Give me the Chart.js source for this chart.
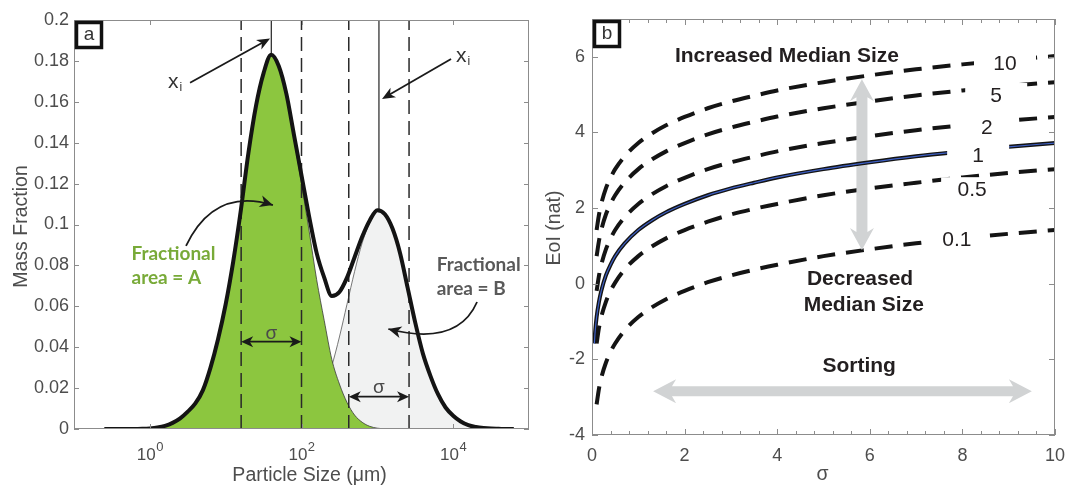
<!DOCTYPE html>
<html><head><meta charset="utf-8">
<script src="https://cdn.jsdelivr.net/npm/chart.js@4"></script>
<style>
html,body{margin:0;padding:0;background:#fff;width:1067px;height:487px;overflow:hidden}
#wa{position:absolute;left:0;top:0;width:540px;height:487px}
#wb{position:absolute;left:540px;top:0;width:527px;height:487px}
</style></head><body>
<div id="wa"><canvas id="ca"></canvas></div>
<div id="wb"><canvas id="cb"></canvas></div>
<script>
// ---------------- Panel a data ----------------
const sizeUm = [0.251,0.316,0.398,0.501,0.631,0.794,1,1.259,1.585,1.995,2.512,3.162,3.981,5.012,6.31,7.943,10,12.59,15.85,19.95,25.12,31.62,39.81,50.12,63.1,79.43,100,125.9,158.5,199.5,251.2,316.2,398.1,501.2,631,794.3,1000,1259,1585,1995,2512,3162,3981,5012,6310,7943,10000,12589,15849,19953,25119,31623,39811,50119,63096];
const massTotal = [0,0,0,0,0,0.0001,0.0003,0.0007,0.0015,0.003,0.0052,0.0085,0.0125,0.019,0.030,0.044,0.061,0.082,0.107,0.135,0.158,0.174,0.183,0.1775,0.164,0.144,0.124,0.104,0.086,0.074,0.065,0.067,0.074,0.084,0.094,0.102,0.107,0.105,0.098,0.086,0.069,0.052,0.037,0.026,0.017,0.0105,0.0065,0.0037,0.0019,0.001,0.0005,0.0002,0.0001,0,0];
const massA = [0,0,0,0,0,0.0001,0.0003,0.0007,0.0015,0.003,0.0052,0.0085,0.0125,0.019,0.030,0.044,0.061,0.082,0.107,0.135,0.158,0.174,0.183,0.177,0.163,0.142,0.120,0.097,0.073,0.053,0.034,0.022,0.013,0.0068,0.0033,0.0013,0.0004,0.0001,0,0,0,0,0,0,0,0,0,0,0,0,0,0,0,0,0];
const massB = [0,0,0,0,0,0,0,0,0,0,0,0,0,0,0,0,0,0,0,0,0,0,0.0001,0.0003,0.0008,0.0018,0.0038,0.0072,0.013,0.021,0.031,0.045,0.061,0.077,0.091,0.101,0.107,0.105,0.098,0.086,0.069,0.052,0.037,0.026,0.017,0.0105,0.0065,0.0037,0.0019,0.001,0.0005,0.0002,0.0001,0,0];
const xiSizes = [40, 1050];
const xiPeaks = [0.183, 0.107];
const sigmaLines = [16, 100, 420, 2620];
const yTicksA = [0,0.02,0.04,0.06,0.08,0.1,0.12,0.14,0.16,0.18,0.2];
const xTicksA = [1,100,10000];
const xTickExpA = ['0','2','4'];

// ---------------- Panel b data ----------------
const sigmaDash = [0.1,0.15,0.2,0.3,0.4,0.5,0.7,1,1.3,1.6,2,2.5,3,3.5,4,5,6,7,8,9,10];
const sigmaSolid = [0.05,0.07,0.1,0.15,0.2,0.3,0.4,0.5,0.7,1,1.3,1.6,2,2.5,3,3.5,4,5,6,7,8,9,10];
const eoi10 = [1.42,1.82,2.11,2.52,2.80,3.03,3.36,3.72,3.98,4.19,4.41,4.64,4.82,4.97,5.11,5.33,5.51,5.67,5.80,5.92,6.02];
const eoi5  = [0.73,1.13,1.42,1.83,2.11,2.34,2.67,3.03,3.29,3.50,3.72,3.95,4.13,4.28,4.42,4.64,4.82,4.98,5.11,5.23,5.33];
const eoi2  = [-0.19,0.21,0.50,0.91,1.19,1.42,1.75,2.11,2.37,2.58,2.80,3.03,3.21,3.36,3.50,3.72,3.90,4.06,4.19,4.31,4.41];
const eoi1  = [-1.58,-1.24,-0.88,-0.48,-0.19,0.22,0.50,0.73,1.06,1.42,1.68,1.89,2.11,2.34,2.52,2.67,2.81,3.03,3.21,3.37,3.50,3.62,3.72];
const eoi05 = [-1.58,-1.17,-0.88,-0.48,-0.19,0.03,0.37,0.73,0.99,1.20,1.42,1.64,1.83,1.98,2.11,2.34,2.52,2.67,2.81,2.93,3.03];
const eoi01 = [-3.19,-2.78,-2.49,-2.09,-1.80,-1.58,-1.24,-0.88,-0.62,-0.41,-0.19,0.04,0.22,0.37,0.50,0.73,0.91,1.07,1.20,1.32,1.42];
const medianLabels = ['10','5','2','1','0.5','0.1'];
const xTicksB = [0,2,4,6,8,10];
const xMinorB = [0.4,0.8,1.2,1.6,2.4,2.8,3.2,3.6,4.4,4.8,5.2,5.6,6.4,6.8,7.2,7.6,8.4,8.8,9.2,9.6];
const yTicksB = [-4,-2,0,2,4,6];

// ---------------- helpers ----------------
Chart.defaults.font.family = '"Liberation Sans", Arial, sans-serif';
Chart.defaults.color = '#4d4d4d';
const FONT = '"Liberation Sans", Arial, sans-serif';
const AXC = '#8c8c8c';
const pts = (xs, ys) => xs.map((x,i)=>({x:x, y:ys[i]}));
const noPad = s => { s.paddingLeft = 0; s.paddingRight = 0; s.paddingTop = 0; s.paddingBottom = 0; };

function stealth(ctx,x,y,ang,L,W){ctx.save();ctx.translate(x,y);ctx.rotate(ang);ctx.beginPath();ctx.moveTo(0,0);ctx.lineTo(-L,-W);ctx.lineTo(-L*0.72,0);ctx.lineTo(-L,W);ctx.closePath();ctx.fill();ctx.restore();}
function arrowLine(ctx,x1,y1,x2,y2,L,W){const a=Math.atan2(y2-y1,x2-x1);ctx.beginPath();ctx.moveTo(x1,y1);ctx.lineTo(x2-Math.cos(a)*L*0.6,y2-Math.sin(a)*L*0.6);ctx.stroke();stealth(ctx,x2,y2,a,L,W);}
function dblArrow(ctx,x1,y,x2,L,W){ctx.beginPath();ctx.moveTo(x1+L*0.6,y);ctx.lineTo(x2-L*0.6,y);ctx.stroke();stealth(ctx,x1,y,Math.PI,L,W);stealth(ctx,x2,y,0,L,W);}
function curveArrow(ctx,p0,c,p2,L,W){ctx.beginPath();ctx.moveTo(p0[0],p0[1]);ctx.quadraticCurveTo(c[0],c[1],p2[0],p2[1]);ctx.stroke();stealth(ctx,p2[0],p2[1],Math.atan2(p2[1]-c[1],p2[0]-c[0]),L,W);}
function fatArrow(ctx,x1,y1,x2,y2,shaft,headW,headL){
  const len=Math.hypot(x2-x1,y2-y1), s=shaft/2, h=headW/2;
  ctx.save();ctx.translate(x1,y1);ctx.rotate(Math.atan2(y2-y1,x2-x1));
  ctx.beginPath();ctx.moveTo(0,0);ctx.lineTo(headL,-h);ctx.lineTo(headL*0.82,-s);ctx.lineTo(len-headL*0.82,-s);ctx.lineTo(len-headL,-h);
  ctx.lineTo(len,0);ctx.lineTo(len-headL,h);ctx.lineTo(len-headL*0.82,s);ctx.lineTo(headL*0.82,s);ctx.lineTo(headL,h);ctx.closePath();ctx.fill();ctx.restore();
}
function panelBox(ctx,ca,letter){
  ctx.save();ctx.fillStyle='#fff';ctx.fillRect(ca.left+1,ca.top+1,28,28);
  ctx.strokeStyle='#111';ctx.lineWidth=3.5;ctx.strokeRect(ca.left+2.5,ca.top+2.5,25,25);
  ctx.fillStyle='#333';ctx.font='19px '+FONT;ctx.textAlign='center';ctx.textBaseline='middle';ctx.fillText(letter,ca.left+15,ca.top+15);ctx.restore();
}

// ---------------- Panel a ----------------
const annA = {
  id:'annA',
  afterDatasetsDraw(chart){
    const {ctx, chartArea:ca, scales:{x,y}} = chart;
    const X=v=>x.getPixelForValue(v), Y=v=>y.getPixelForValue(v);
    ctx.save();
    ctx.strokeStyle=AXC; ctx.lineWidth=1;
    ctx.strokeRect(ca.left+0.5,ca.top+0.5,ca.right-ca.left-1,ca.bottom-ca.top-1);
    ctx.beginPath();
    yTicksA.forEach(v=>{const p=Math.round(Y(v))+0.5;ctx.moveTo(ca.left,p);ctx.lineTo(ca.left+5,p);ctx.moveTo(ca.right,p);ctx.lineTo(ca.right-5,p);});
    xTicksA.forEach(v=>{const p=Math.round(X(v))+0.5;ctx.moveTo(p,ca.bottom);ctx.lineTo(p,ca.bottom-5);ctx.moveTo(p,ca.top);ctx.lineTo(p,ca.top+5);});
    ctx.stroke();
    ctx.fillStyle='#4d4d4d';ctx.textAlign='left';ctx.textBaseline='alphabetic';
    xTicksA.forEach((v,i)=>{
      ctx.font='17px '+FONT;const w1=ctx.measureText('10').width;
      ctx.font='13px '+FONT;const w2=ctx.measureText(xTickExpA[i]).width;
      const sx=X(v)-(w1+w2)/2;
      ctx.font='17px '+FONT;ctx.fillText('10',sx,ca.bottom+31);
      ctx.font='13px '+FONT;ctx.fillText(xTickExpA[i],sx+w1+0.5,ca.bottom+22);
    });
    ctx.font='19.5px '+FONT;ctx.textAlign='center';
    ctx.fillText('Particle Size (\u03bcm)',(ca.left+ca.right)/2+8,ca.bottom+52);
    ctx.save();ctx.translate(ca.left-47,(ca.top+ca.bottom)/2+2);ctx.rotate(-Math.PI/2);ctx.fillText('Mass Fraction',0,0);ctx.restore();
    ctx.strokeStyle='#1a1a1a';ctx.fillStyle='#1a1a1a';ctx.lineWidth=1.8;
    arrowLine(ctx,X(3.39),Y(0.1693),X(38.5),Y(0.191),13,5.5);
    arrowLine(ctx,X(9380),Y(0.1809),X(1153),Y(0.1614),13,5.5);
    curveArrow(ctx,[X(3.0),Y(0.0895)],[X(7.0),Y(0.1183)],[X(42),Y(0.1095)],13,6);
    curveArrow(ctx,[X(20650),Y(0.0621)],[X(11400),Y(0.0402)],[X(1396),Y(0.0489)],13,6);
    dblArrow(ctx,X(sigmaLines[0]),Y(0.0427),X(sigmaLines[1]),12,5.5);
    dblArrow(ctx,X(sigmaLines[2]),Y(0.0158),X(sigmaLines[3]),12,5.5);
    ctx.fillStyle='#4a4a4a';ctx.font='19px '+FONT;ctx.textAlign='center';ctx.textBaseline='alphabetic';
    ctx.fillText('\u03c3',X(Math.sqrt(sigmaLines[0]*sigmaLines[1])),Y(0.0427)-3);
    ctx.fillText('\u03c3',X(Math.sqrt(sigmaLines[2]*sigmaLines[3])),Y(0.0158)-4);
    ctx.fillStyle='#333';ctx.textAlign='left';
    [[1.74,0.1667],[10900,0.1795]].forEach(p=>{
      ctx.font='21px '+FONT;const px=X(p[0]),py=Y(p[1]);ctx.fillText('x',px,py);
      const w=ctx.measureText('x').width;ctx.font='12px '+FONT;ctx.fillText('i',px+w+1,py+3);
    });
    ctx.font='bold 19px Lato, "Liberation Sans", sans-serif';
    ctx.fillStyle='#78aa38';
    ctx.fillText('Fractional',X(0.573),Y(0.0826));ctx.fillText('area = A',X(0.573),Y(0.0709));
    ctx.fillStyle='#595959';
    ctx.fillText('Fractional',X(6070),Y(0.0772));ctx.fillText('area = B',X(6070),Y(0.0655));
    ctx.restore();
    panelBox(ctx,ca,'a');
  }
};

new Chart(document.getElementById('ca'),{
  type:'line',
  data:{datasets:[
    {data:pts(sizeUm,massTotal),borderColor:'#141414',borderWidth:4,fill:false,cubicInterpolationMode:'monotone'},
    {data:[{x:xiSizes[0],y:xiPeaks[0]},{x:xiSizes[0],y:yTicksA[yTicksA.length-1]}],borderColor:'#333',borderWidth:1.3,fill:false},
    {data:[{x:xiSizes[1],y:xiPeaks[1]},{x:xiSizes[1],y:yTicksA[yTicksA.length-1]}],borderColor:'#333',borderWidth:1.3,fill:false},
    ...sigmaLines.map(s=>({data:[{x:s,y:yTicksA[0]},{x:s,y:yTicksA[yTicksA.length-1]}],borderColor:'#2a2a2a',borderWidth:1.5,borderDash:[14,7],fill:false})),
    {data:pts(sizeUm,massA),borderColor:'#3a3a3a',borderWidth:0.8,backgroundColor:'#8cc63f',fill:'origin',cubicInterpolationMode:'monotone'},
    {data:pts(sizeUm,massB),borderColor:'#555',borderWidth:0.8,backgroundColor:'#f1f2f2',fill:'origin',cubicInterpolationMode:'monotone'}
  ]},
  options:{
    responsive:true,maintainAspectRatio:false,animation:false,devicePixelRatio:1,
    layout:{padding:{left:0,right:11,top:20,bottom:0}},
    elements:{point:{radius:0},line:{borderCapStyle:'butt'}},
    plugins:{legend:{display:false},tooltip:{enabled:false}},
    scales:{
      x:{type:'logarithmic',min:0.1,max:100000,grid:{display:false,drawTicks:false},border:{display:false},ticks:{display:false},
         afterBuildTicks:s=>{s.ticks=xTicksA.map(v=>({value:v}));},afterFit:s=>{s.height=58;noPad(s);}},
      y:{type:'linear',min:0,max:0.2,grid:{display:false,drawTicks:false},border:{display:false},
         ticks:{font:{size:18},color:'#4d4d4d',padding:5,autoSkip:false,callback:v=>String(Math.round(v*100)/100)},
         afterBuildTicks:s=>{s.ticks=yTicksA.map(v=>({value:v}));},afterFit:s=>{s.width=74;noPad(s);}}
    }
  },
  plugins:[annA]
});

// ---------------- Panel b ----------------
const labelPos = [[8.92,5.82],[8.73,4.99],[8.53,4.14],[8.34,3.40],[8.21,2.50],[7.88,1.18]];
const annB = {
  id:'annB',
  afterDatasetDraw(chart,args){
    if(args.index!==2) return;
    const {ctx, scales:{x,y}} = chart;
    const X=v=>x.getPixelForValue(v), Y=v=>y.getPixelForValue(v);
    ctx.save();ctx.fillStyle='#d1d3d4';
    fatArrow(ctx,X(5.83),Y(5.41),X(5.83),Y(0.89),11,24,22);
    fatArrow(ctx,X(1.32),Y(-2.84),X(9.5),Y(-2.84),10,24,23);
    ctx.restore();
  },
  afterDatasetsDraw(chart){
    const {ctx, chartArea:ca, scales:{x,y}} = chart;
    const X=v=>x.getPixelForValue(v), Y=v=>y.getPixelForValue(v);
    ctx.save();
    ctx.font='21px '+FONT;ctx.textAlign='center';ctx.textBaseline='middle';
    labelPos.forEach((p,i)=>{
      const px=X(p[0]),py=Y(p[1]);
      ctx.fillStyle='#fff';ctx.fillRect(px-31,py-12,62,24);
      ctx.fillStyle='#231f20';ctx.fillText(medianLabels[i],px,py+1);
    });
    ctx.font='bold 21px '+FONT;ctx.textBaseline='alphabetic';ctx.fillStyle='#231f20';
    ctx.fillText('Increased Median Size',X(4.21),Y(5.87));
    ctx.fillText('Decreased',X(5.79),Y(-0.03));
    ctx.fillText('Median Size',X(5.87),Y(-0.72));
    ctx.fillText('Sorting',X(5.77),Y(-2.33));
    ctx.strokeStyle=AXC;ctx.lineWidth=1;
    ctx.strokeRect(ca.left+0.5,ca.top+0.5,ca.right-ca.left-1,ca.bottom-ca.top-1);
    ctx.beginPath();
    yTicksB.forEach(v=>{const p=Math.round(Y(v))+0.5;ctx.moveTo(ca.left,p);ctx.lineTo(ca.left+6,p);ctx.moveTo(ca.right,p);ctx.lineTo(ca.right-6,p);});
    xTicksB.forEach(v=>{const p=Math.round(X(v))+0.5;ctx.moveTo(p,ca.bottom);ctx.lineTo(p,ca.bottom-6);ctx.moveTo(p,ca.top);ctx.lineTo(p,ca.top+6);});
    xMinorB.forEach(v=>{const p=Math.round(X(v))+0.5;ctx.moveTo(p,ca.bottom);ctx.lineTo(p,ca.bottom-4);ctx.moveTo(p,ca.top);ctx.lineTo(p,ca.top+4);});
    ctx.stroke();
    ctx.fillStyle='#4d4d4d';ctx.font='19.5px '+FONT;ctx.textAlign='center';
    ctx.fillText('\u03c3',X(5)-1,ca.bottom+45);
    ctx.save();ctx.translate(ca.left-32,(ca.top+ca.bottom)/2+1);ctx.rotate(-Math.PI/2);ctx.fillText('EoI (nat)',0,0);ctx.restore();
    ctx.restore();
    panelBox(ctx,ca,'b');
  }
};
const dashStyle = {borderColor:'#141414',borderWidth:4,borderDash:[18,11],fill:false,cubicInterpolationMode:'monotone'};
new Chart(document.getElementById('cb'),{
  type:'line',
  data:{datasets:[
    {data:pts(sigmaSolid,eoi1),borderColor:'#3d5fc4',borderWidth:1.2,fill:false,cubicInterpolationMode:'monotone'},
    {data:pts(sigmaSolid,eoi1),borderColor:'#141414',borderWidth:4,fill:false,cubicInterpolationMode:'monotone'},
    Object.assign({data:pts(sigmaDash,eoi10)},dashStyle),
    Object.assign({data:pts(sigmaDash,eoi5)},dashStyle),
    Object.assign({data:pts(sigmaDash,eoi2)},dashStyle),
    Object.assign({data:pts(sigmaDash,eoi05)},dashStyle),
    Object.assign({data:pts(sigmaDash,eoi01)},dashStyle)
  ]},
  options:{
    responsive:true,maintainAspectRatio:false,animation:false,devicePixelRatio:1,
    layout:{padding:{left:0,right:12,top:19,bottom:0}},
    elements:{point:{radius:0},line:{borderCapStyle:'butt'}},
    plugins:{legend:{display:false},tooltip:{enabled:false}},
    scales:{
      x:{type:'linear',min:0,max:10,grid:{display:false,drawTicks:false},border:{display:false},
         ticks:{font:{size:18},color:'#4d4d4d',padding:10,autoSkip:false,maxRotation:0,callback:v=>String(v)},
         afterBuildTicks:s=>{s.ticks=xTicksB.map(v=>({value:v}));},afterFit:s=>{s.height=52;noPad(s);}},
      y:{type:'linear',min:-4,max:7,grid:{display:false,drawTicks:false},border:{display:false},
         ticks:{font:{size:18},color:'#4d4d4d',padding:7,autoSkip:false,callback:v=>String(v)},
         afterBuildTicks:s=>{s.ticks=yTicksB.map(v=>({value:v}));},afterFit:s=>{s.width=52;noPad(s);}}
    }
  },
  plugins:[annB]
});
</script>
</body></html>
